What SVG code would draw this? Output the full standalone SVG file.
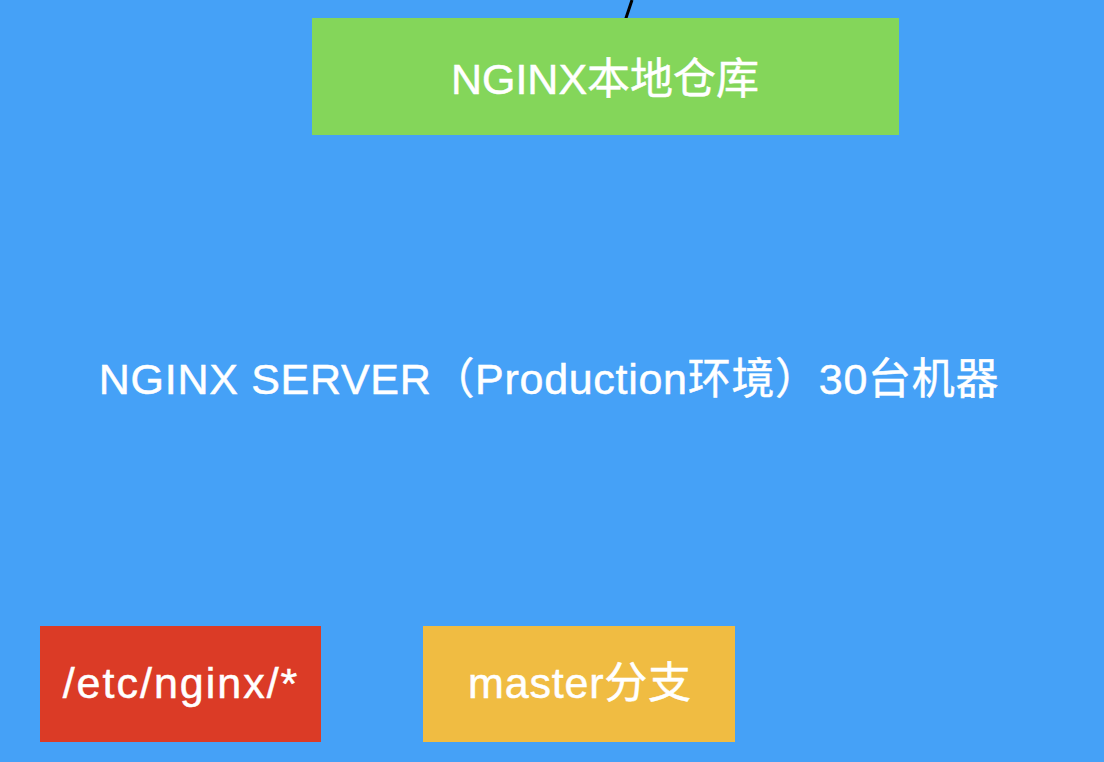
<svg xmlns="http://www.w3.org/2000/svg" width="1104" height="762" viewBox="0 0 1104 762">
<style>
.t{font-family:"Liberation Sans","Noto Sans CJK SC",sans-serif;fill:#fff;stroke:#fff;stroke-width:0.5;text-anchor:middle;font-size:43px}
</style>
<rect id="background" x="0" y="0" width="1104" height="762" fill="#45A1F7"/>
<g id="connectors">
<line x1="632" y1="0" x2="622" y2="30" stroke="#000" stroke-width="3"/>
</g>
<g id="server">
<text class="t" x="549" y="394" letter-spacing="0.7">NGINX SERVER（Production环境）30台机器</text>
</g>
<g id="repo">
<rect x="312" y="18" width="587" height="117" fill="#84D65A"/>
<text class="t" x="605" y="94">NGINX本地仓库</text>
</g>
<g id="etc">
<rect x="40" y="626" width="281" height="116" fill="#DB3B26"/>
<text class="t" x="181" y="698" letter-spacing="2">/etc/nginx/*</text>
</g>
<g id="master">
<rect x="423" y="626" width="312" height="116" fill="#F0BC42"/>
<text class="t" x="580" y="698" letter-spacing="0.8">master分支</text>
</g>
</svg>
